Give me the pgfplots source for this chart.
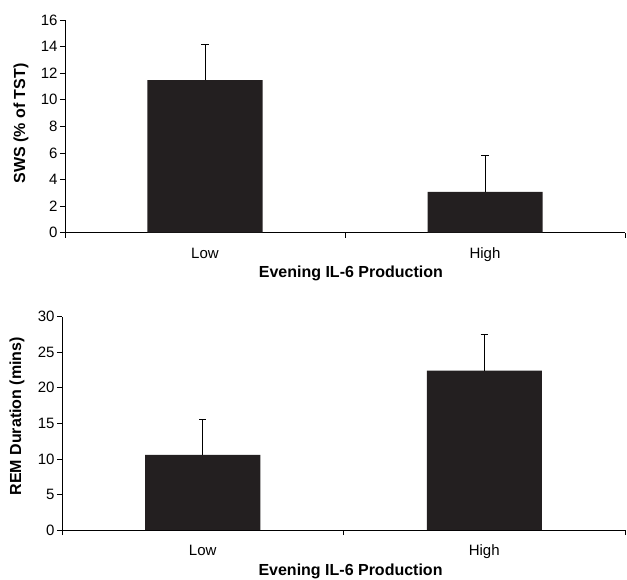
\documentclass[border=0pt]{standalone}
\usepackage{fontspec}
\setmainfont{Liberation Sans}
\usepackage{pgfplots}
\pgfplotsset{compat=1.18}
\definecolor{barc}{HTML}{231F20}
\pgfplotsset{
  mybar/.style={
    scale only axis,
    axis lines*=left,
    axis line style={line width=0.8pt, black},
    every tick/.style={line width=0.8pt, black},
    tick align=outside,
    major tick length=5pt,
    minor tick length=5pt,
    xmin=0, xmax=2, ymin=0,
    xtick={0.5,1.5},
    xticklabels={Low,High},
    major x tick style={draw=none},
    minor x tick style={draw=black, line width=0.8pt},
    minor xtick={0,1,2},
    ybar, bar width=115pt,
    tick label style={font=\fontsize{15}{17}\selectfont},
    xticklabel style={anchor=base, yshift=-20.6pt},
    yticklabel style={xshift=1pt},
    label style={font=\bfseries\fontsize{16}{18}\selectfont},
    /pgf/number format/assume math mode=true,
    xlabel={Evening IL-6 Production},
    error bars/y dir=plus,
    error bars/y explicit,
    error bars/error mark=-,
    error bars/error mark options={mark size=3.7pt, line width=0.8pt, black, rotate=90},
    error bars/error bar style={line width=0.8pt, black},
  }
}
\begin{document}
\begin{tikzpicture}[x=1pt,y=1pt]
\useasboundingbox (0,0) rectangle (627,579);
\begin{axis}[mybar,
  at={(65pt,346.3pt)}, anchor=south west,
  width=560pt, height=212.7pt,
  ymax=16, ytick={0,2,...,16},
  ylabel={SWS (\% of TST)},
  ylabel style={at={(axis description cs:-0.0786,0.513)}, anchor=center},
  xlabel style={at={(axis description cs:0.5105,-0.192)}, anchor=center},
]
\addplot[fill=barc, draw=none] coordinates {(0.5,11.48) +- (0,2.69) (1.5,3.08) +- (0,2.74)};
\end{axis}
\begin{axis}[mybar,
  at={(62pt,49pt)}, anchor=south west,
  width=563pt, height=213.3pt,
  ymax=30, ytick={0,5,...,30},
  ylabel={REM Duration (mins)},
  ylabel style={at={(axis description cs:-0.08,0.533)}, anchor=center},
  xlabel style={at={(axis description cs:0.5125,-0.194)}, anchor=center},
]
\addplot[fill=barc, draw=none] coordinates {(0.5,10.55) +- (0,5.01) (1.5,22.4) +- (0,5.16)};
\end{axis}
\end{tikzpicture}
\end{document}
